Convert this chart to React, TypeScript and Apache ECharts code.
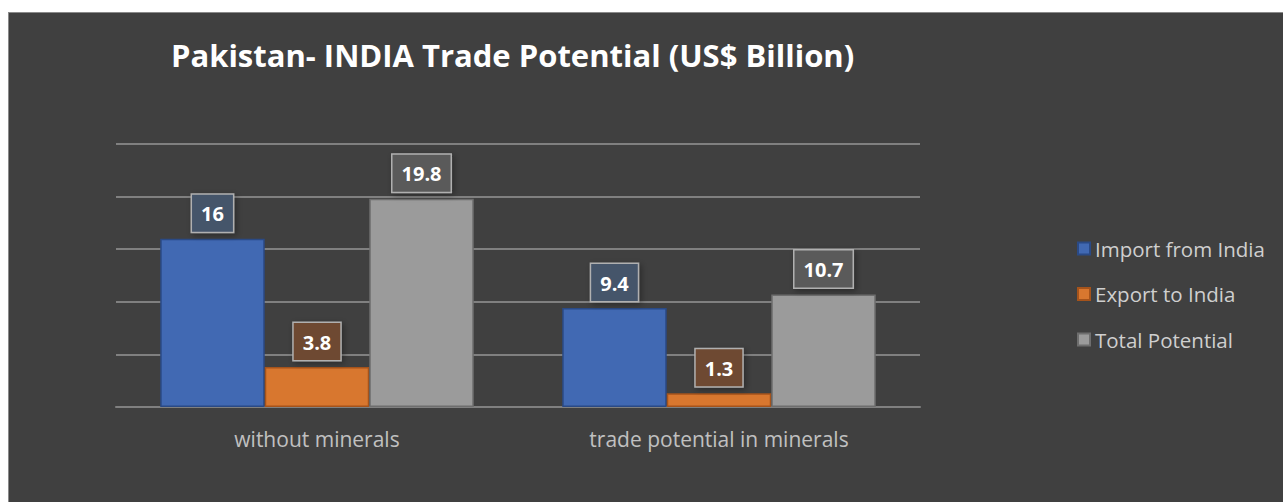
import React, { useEffect, useRef } from "react";
import * as echarts from "echarts";

const categories = ["without minerals", "trade potential in minerals"];
const importFromIndia = [16, 9.4];
const exportToIndia = [3.8, 1.3];
const totalPotential = [19.8, 10.7];
const seriesNames = ["Import from India", "Export to India", "Total Potential"];

export default function App() {
  const ref = useRef<HTMLDivElement>(null);
  useEffect(() => {
    if (!ref.current) return;
    const chart = echarts.init(ref.current, undefined, { renderer: "svg" });
    const mkLabel = (bg: string) => ({
      show: true,
      position: "top",
      distance: 7,
      color: "#ffffff",
      fontSize: 20,
      fontWeight: "bold",
      fontFamily: "Open Sans",
      lineHeight: 24,
      backgroundColor: bg,
      borderColor: "#b0b0b0",
      borderWidth: 1.5,
      padding: [7, 9, 6, 9],
      shadowColor: "rgba(0,0,0,0.35)",
      shadowBlur: 6,
      shadowOffsetX: 2,
      shadowOffsetY: 2,
    });
    const mk = (name: string, data: number[], color: string, border: string, labelBg: string) => ({
      name,
      type: "bar",
      data,
      barGap: "0%",
      barCategoryGap: "22%",
      itemStyle: { color, borderColor: border, borderWidth: 1.5 },
      label: mkLabel(labelBg),
    });
    chart.setOption({
      animation: false,
      backgroundColor: "#404040",
      title: {
        text: "Pakistan- INDIA Trade Potential (US$ Billion)",
        left: 157,
        top: 21,
        textStyle: { color: "#ffffff", fontSize: 31, fontWeight: "bold", fontFamily: "Open Sans" },
      },
      legend: {
        orient: "vertical",
        left: 1063,
        top: 220,
        itemGap: 24.5,
        itemWidth: 12,
        itemHeight: 12,
        icon: "rect",
        textStyle: { color: "#cfcfcf", fontSize: 20.5, fontFamily: "Open Sans" },
        data: seriesNames,
      },
      grid: { left: 107, right: 377, top: 131, bottom: 104 },
      xAxis: {
        type: "category",
        data: categories,
        axisLine: { show: true, lineStyle: { color: "#808080", width: 2 } },
        axisTick: { show: false },
        axisLabel: { color: "#c0c0c0", fontSize: 21, fontFamily: "Open Sans", margin: 21 },
      },
      yAxis: {
        type: "value",
        min: 0,
        max: 25,
        interval: 5,
        axisLabel: { show: false },
        axisLine: { show: false },
        axisTick: { show: false },
        splitLine: { lineStyle: { color: "#808080", width: 2 } },
      },
      series: [
        mk(seriesNames[0], importFromIndia, "#4169b3", "#2a4a86", "#44546a"),
        mk(seriesNames[1], exportToIndia, "#d8772f", "#a5531b", "#6e4a32"),
        mk(seriesNames[2], totalPotential, "#9b9b9b", "#6e6e6e", "#5a5a5a"),
      ],
    });
    return () => chart.dispose();
  }, []);
  return (
    <div
      style={{
        position: "absolute",
        left: 8,
        top: 12,
        width: 1290,
        height: 500,
        border: "1px solid #8a8a8a",
        boxSizing: "border-box",
        overflow: "hidden",
      }}
    >
      <div ref={ref} style={{ width: 1288, height: 498 }} />
    </div>
  );
}
